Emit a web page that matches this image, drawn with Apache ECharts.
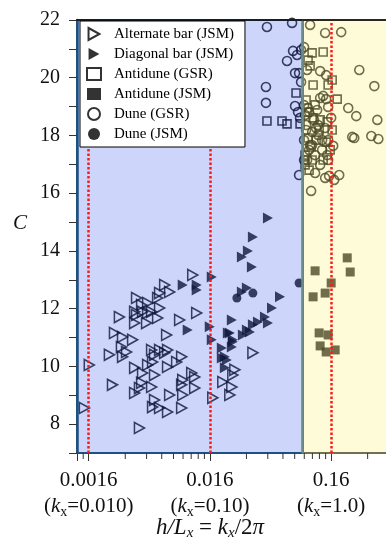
<!DOCTYPE html>
<html>
<head>
<meta charset="utf-8">
<script src="https://cdn.jsdelivr.net/npm/echarts@6/dist/echarts.min.js"></script>
<style>
  html, body { margin: 0; padding: 0; background: #fff; }
  #main { width: 386px; height: 546px; }
</style>
</head>
<body>
<div id="main"></div>
<script>
// x is k_x (= 2*pi*h/Lx) on a log axis, y is C
var xMin = 0.008, xMax = 3;
var yMin = 7, yMax = 22;
var boundaryKx = 0.585;
var tickKx = [0.01, 0.1, 1];
var tickH = ['0.0016', '0.016', '0.16'];
var tickK = ['0.010', '0.10', '1.0'];
var minorTicks = [0.009, 0.02, 0.03, 0.04, 0.05, 0.06, 0.07, 0.08, 0.09,
  0.2, 0.3, 0.4, 0.5, 0.6, 0.7, 0.8, 0.9, 2];

var altBar = [[0.0423,12.82],[0.0384,12.54],[0.0465,12.58],[0.0248,12.37],[0.0306,12.20],[0.0370,12.37],
  [0.0273,12.13],[0.0239,11.89],[0.0278,11.89],[0.0330,11.89],[0.0384,12.02],[0.0179,11.71],[0.0248,11.78],
  [0.0306,11.85],[0.0370,11.68],[0.0239,11.50],[0.0300,11.50],[0.0777,11.85],[0.0562,11.61],[0.0163,11.16],
  [0.0190,11.02],[0.0230,10.92],[0.0186,10.67],[0.0148,10.40],[0.0205,10.50],[0.0190,10.33],[0.0439,11.09],
  [0.0330,10.57],[0.0384,10.57],[0.0447,10.57],[0.0349,10.40],[0.0423,10.47],[0.0584,10.33],[0.0101,10.05],
  [0.0239,9.95],[0.0306,10.05],[0.0336,10.15],[0.0447,9.98],[0.0531,10.15],[0.0278,9.77],[0.0349,9.70],
  [0.0157,9.36],[0.0273,9.43],[0.0596,9.53],[0.0707,9.77],[0.0748,9.63],[0.0584,9.36],[0.1276,9.46],
  [0.1544,9.70],[0.1604,9.88],[0.0239,9.08],[0.0262,9.25],[0.0330,9.29],[0.0465,9.01],[0.0596,9.01],
  [0.0748,9.25],[0.1515,9.29],[0.1458,9.01],[0.1055,8.91],[0.0349,8.84],[0.0336,8.59],[0.0384,8.56],
  [0.0447,8.42],[0.0584,8.56],[0.0092,8.56],[0.0262,7.87],[0.2261,10.47],[0.0721,13.17]];

var diagBar = [[0.3010,15.14],[0.2261,14.48],[0.2056,14.00],[0.1833,13.79],[0.2218,13.44],[0.1035,13.10],
  [0.0596,12.82],[0.0777,12.82],[0.0777,12.65],[0.0655,11.26],[0.0996,11.37],[0.1035,10.92],[0.1515,11.61],
  [0.1458,11.16],[0.1544,10.85],[0.1252,10.64],[0.1252,10.29],[0.1377,10.22],[0.1326,9.95],[0.2017,12.72],
  [0.1833,12.58],[0.3784,12.41],[0.3248,12.02],[0.2017,11.26],[0.2261,11.44],[0.2487,11.54],[0.2842,11.71],
  [0.3010,11.50],[0.1404,11.16],[0.1869,11.09],[0.2135,11.19],[0.1544,10.92],[0.1515,10.67],[0.1326,10.33]];

var antiGSR = [[0.2953,18.50],[0.3930,18.50],[0.4323,18.40],[0.5132,19.47],[0.5540,18.40],[0.6962,20.86],
  [0.8587,20.89],[0.6450,20.61],[0.7096,19.75],[0.9445,19.75],[1.019,19.92],[1.121,19.26],[0.6702,20.41],
  [0.6209,19.23],[0.7096,18.61],[0.8110,18.54],[0.9267,18.47],[0.6450,17.91],[0.7512,17.84],[0.9092,17.77],
  [1.019,18.19],[0.6093,17.32],[0.6962,17.15],[0.9811,17.50],[0.6575,16.80],[0.6329,18.81],[0.7956,18.19],
  [0.6831,17.60],[0.8587,17.15],[0.6093,16.98],[0.7370,19.06]];

var antiJSM = [[1.357,13.76],[0.737,13.31],[1.436,13.27],[1.0,12.89],[0.7096,12.41],[0.892,12.54],
  [0.7956,11.16],[0.9445,11.09],[0.811,10.71],[0.9092,10.50],[1.079,10.57]];

var duneGSR = [[0.2953,21.76],[0.4756,21.90],[0.4847,20.93],[0.4323,20.58],[0.5645,20.96],[0.5231,20.79],
  [0.5035,20.16],[0.5435,20.16],[0.2897,19.68],[0.2897,19.13],[0.5645,19.85],[0.5035,19.02],[0.5332,18.81],
  [0.5540,18.61],[0.5435,16.63],[0.6702,21.83],[0.892,21.55],[1.210,21.58],[0.5978,21.06],[0.6329,20.27],
  [0.811,20.23],[0.9092,20.09],[1.706,20.27],[2.270,19.71],[1.383,18.95],[1.611,18.67],[2.403,18.54],
  [0.645,18.95],[0.7657,18.88],[0.811,19.30],[0.8587,19.37],[0.9092,19.26],[0.9445,18.99],[1.492,17.95],
  [1.550,17.91],[2.144,17.98],[2.449,17.88],[1.039,17.64],[0.9445,17.84],[0.737,16.70],[0.892,16.53],
  [0.9625,16.60],[1.059,16.46],[1.165,16.63],[0.6831,16.08],[0.6329,17.15],[0.7805,18.36],[0.892,18.26],
  [0.6962,18.12],[0.6093,18.71],[0.6702,17.67],[0.8424,17.50],[1.0,18.61],[0.6209,18.19],[0.737,17.32],
  [0.9445,17.15],[0.5978,17.84],[0.5978,19.05],[0.6575,18.81],[0.7230,18.54],[0.6209,18.36],[0.7805,18.02],
  [0.8424,17.84],[0.6575,17.50],[0.6962,17.67],[0.5978,17.15],[0.811,16.98],[0.9267,17.32],[0.7512,18.26]];

var duneJSM = [[0.1667,12.37],[0.2261,12.54],[0.5435,12.89]];

var serif = "'Liberation Serif', 'DejaVu Serif', serif";
var tri = 'path://M0,0L10,5.5L0,11Z';
var hollow = { color: 'rgba(0,0,0,0)', borderColor: '#000', borderWidth: 1.6 };
var filled = { color: '#000' };
var redDot = { color: '#ff1a1a', width: 2.5, type: [2.5, 2] };

var chartDom = document.getElementById('main');
var myChart = echarts.init(chartDom);
var option;

option = {
  animation: false,
  grid: { left: 77, top: 20, right: -3, bottom: 93, outerBoundsMode: 'none' },
  legend: {
    orient: 'vertical',
    left: 80, top: 21,
    z: 10,
    padding: [5, 11, 5, 6],
    itemWidth: 14, itemHeight: 12, itemGap: 4,
    backgroundColor: '#fff',
    borderColor: '#000', borderWidth: 1,
    textStyle: { fontFamily: serif, fontSize: 15, color: '#000', lineHeight: 16, padding: [0, 0, 0, 8] },
    data: ['Alternate bar (JSM)', 'Diagonal bar (JSM)', 'Antidune (GSR)', 'Antidune (JSM)', 'Dune (GSR)', 'Dune (JSM)']
  },
  xAxis: [{
    type: 'log', logBase: 10, min: xMin, max: xMax,
    axisLine: { show: false },
    axisTick: { show: true, length: 8, lineStyle: { color: '#333' } },
    splitLine: { show: false },
    axisLabel: {
      margin: 14,
      formatter: function (v) {
        for (var i = 0; i < tickKx.length; i++) {
          if (Math.abs(v / tickKx[i] - 1) < 1e-6) {
            return '{a|' + tickH[i] + '}\n{a|(}{k|k}{s|x}{a|=' + tickK[i] + ')}';
          }
        }
        return '';
      },
      rich: {
        a: { fontFamily: serif, fontSize: 21, color: '#111', lineHeight: 26 },
        k: { fontFamily: serif, fontSize: 21, fontStyle: 'italic', color: '#111', lineHeight: 26 },
        s: { fontFamily: serif, fontSize: 14, color: '#111', lineHeight: 20, verticalAlign: 'bottom' }
      }
    }
  }, {
    type: 'log', logBase: 10, min: xMin, max: xMax, position: 'top', z: 8,
    axisLine: { show: true, lineStyle: { color: '#111', width: 1.5 } },
    axisTick: { show: false }, axisLabel: { show: false }, splitLine: { show: false }
  }],
  yAxis: {
    type: 'value', min: yMin, max: yMax, interval: 1, z: 7,
    axisLine: { show: true, lineStyle: { color: '#1f5080', width: 2.5 } },
    axisTick: { show: true, length: 8, lineStyle: { color: '#333' } },
    splitLine: { show: false },
    axisLabel: {
      margin: 17, fontFamily: serif, fontSize: 20, color: '#111',
      formatter: function (v) { return v % 2 === 0 ? String(v) : ''; }
    }
  },
  graphic: [
    { type: 'text', left: 13, top: 213, z: 10,
      style: { text: 'C', fontFamily: serif, fontSize: 21, fontStyle: 'italic', fill: '#111' } },
    { type: 'text', x: 210, y: 528, z: 10,
      style: {
        text: '{i|h/L}{s|x}{r| = }{i|k}{s|x}{r|/2}{i|π}',
        align: 'center', verticalAlign: 'middle',
        rich: {
          i: { fontFamily: serif, fontSize: 23, fontStyle: 'italic', fill: '#111', lineHeight: 26 },
          r: { fontFamily: serif, fontSize: 23, fill: '#111', lineHeight: 26 },
          s: { fontFamily: serif, fontSize: 15, fontStyle: 'italic', fill: '#111', lineHeight: 20, verticalAlign: 'bottom' }
        }
      } }
  ],
  series: [
    {
      name: 'Alternate bar (JSM)', type: 'scatter', data: altBar,
      symbol: tri, symbolSize: [10, 11], itemStyle: hollow,
      markArea: {
        silent: true, z: 3,
        data: [
          [{ xAxis: xMin, itemStyle: { color: 'rgba(59,90,239,0.255)', borderColor: '#1f5080', borderWidth: 2 } }, { xAxis: boundaryKx }],
          [{ xAxis: boundaryKx, itemStyle: { color: 'rgba(252,245,125,0.3)', borderColor: '#707052', borderWidth: 2 } }, { xAxis: xMax }]
        ]
      },
      markLine: {
        silent: true, z: 6, symbol: 'none', label: { show: false },
        data: [
          { xAxis: boundaryKx, lineStyle: { color: '#6a8d88', width: 2.5, type: 'solid' } },
          { xAxis: tickKx[0], lineStyle: redDot },
          { xAxis: tickKx[1], lineStyle: redDot },
          { xAxis: tickKx[2], lineStyle: redDot }
        ]
      }
    },
    { name: 'Diagonal bar (JSM)', type: 'scatter', data: diagBar, symbol: tri, symbolSize: [10, 11], itemStyle: filled },
    { name: 'Antidune (GSR)', type: 'scatter', data: antiGSR, symbol: 'rect', symbolSize: 8, itemStyle: hollow },
    { name: 'Antidune (JSM)', type: 'scatter', data: antiJSM, symbol: 'rect', symbolSize: 9, itemStyle: filled },
    { name: 'Dune (GSR)', type: 'scatter', data: duneGSR, symbol: 'circle', symbolSize: 9, itemStyle: hollow },
    { name: 'Dune (JSM)', type: 'scatter', data: duneJSM, symbol: 'circle', symbolSize: 9, itemStyle: filled },
    {
      name: 'minor ticks', type: 'custom', silent: true, z: 9,
      data: minorTicks.map(function (v) { return [v, yMin]; }),
      renderItem: function (params, api) {
        var p = api.coord([api.value(0), yMin]);
        return { type: 'line', shape: { x1: p[0], y1: p[1], x2: p[0], y2: p[1] + 6 }, style: { stroke: '#333', lineWidth: 1 } };
      }
    }
  ]
};

option && myChart.setOption(option);
</script>
</body>
</html>
